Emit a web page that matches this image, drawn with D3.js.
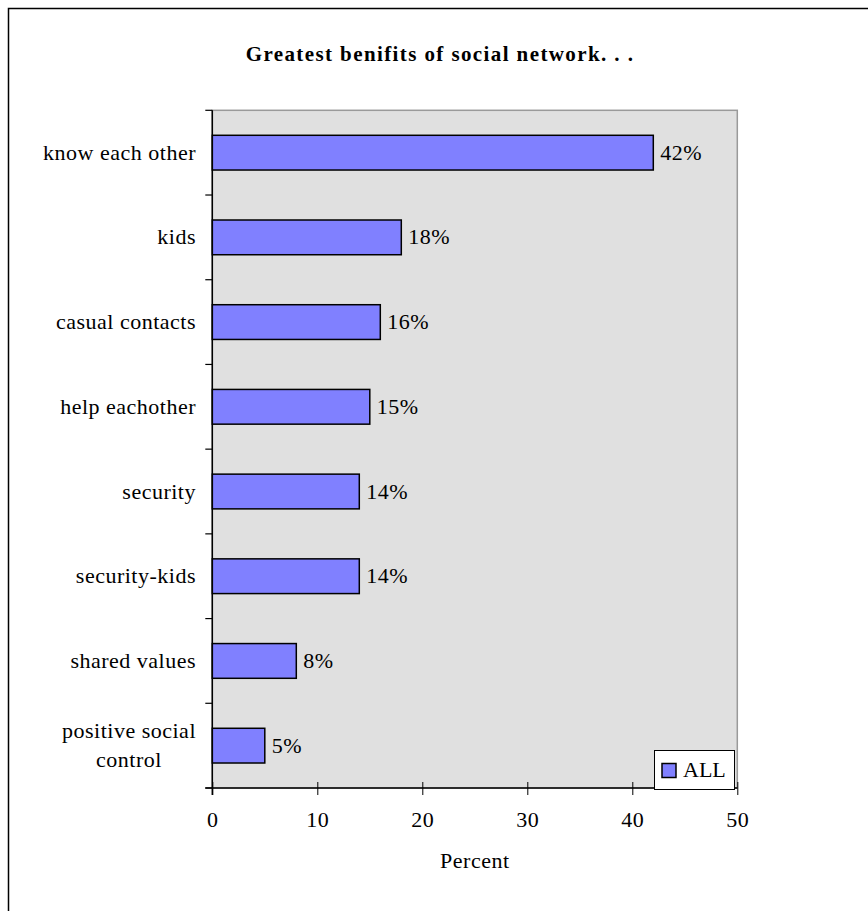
<!DOCTYPE html>
<html>
<head>
<meta charset="utf-8">
<script src="https://cdn.jsdelivr.net/npm/d3@7"></script>
<style>
  html, body { margin: 0; padding: 0; background: #fff; }
  svg { display: block; font-family: "Liberation Serif", "Times New Roman", serif; }
</style>
</head>
<body>
<svg id="chart" width="868" height="911"></svg>
<script>
// Survey answers: greatest benefits of the social network
const categories = [
  ["know each other"],
  ["kids"],
  ["casual contacts"],
  ["help eachother"],
  ["security"],
  ["security-kids"],
  ["shared values"],
  ["positive social", "control"]
];
const values = [42, 18, 16, 15, 14, 14, 8, 5];
const xTicks = [0, 10, 20, 30, 40, 50];
const seriesName = "ALL";
const titleText = "Greatest benifits of social network. . .";
const xAxisTitle = "Percent";

const FS = 22;       // body text size
const LS = 0.5;      // body letter spacing

const svg = d3.select("#chart");
const plot = { left: 212.3, right: 737.3, top: 110.3, bottom: 788 };

// outer chart frame (runs off the right and bottom of the page)
svg.append("rect")
  .attr("x", 8.5).attr("y", 8.5)
  .attr("width", 1000).attr("height", 1000)
  .attr("fill", "#fff").attr("stroke", "#000").attr("stroke-width", 1.5);

const x = d3.scaleLinear().domain([0, 50]).range([plot.left, plot.right]);
const keys = categories.map(c => c.join(" "));
const y = d3.scaleBand().domain(keys).range([plot.top, plot.bottom])
  .paddingInner(0.59).paddingOuter(0.295);

// plot background
svg.append("rect")
  .attr("x", plot.left).attr("y", plot.top)
  .attr("width", plot.right - plot.left).attr("height", plot.bottom - plot.top)
  .attr("fill", "#e0e0e0").attr("stroke", "#9a9a9a").attr("stroke-width", 1.5);

// title
svg.append("text")
  .attr("x", 440).attr("y", 61)
  .attr("text-anchor", "middle")
  .attr("font-size", 21).attr("font-weight", "bold")
  .attr("letter-spacing", 1.4)
  .text(titleText);

// bars
svg.append("g").selectAll("rect")
  .data(values)
  .join("rect")
  .attr("x", x(0))
  .attr("y", (d, i) => y(keys[i]))
  .attr("width", d => x(d) - x(0))
  .attr("height", y.bandwidth())
  .attr("fill", "#8080ff")
  .attr("stroke", "#000").attr("stroke-width", 1.5);

// value labels
svg.append("g").selectAll("text")
  .data(values)
  .join("text")
  .attr("x", d => x(d) + 7)
  .attr("y", (d, i) => y(keys[i]) + y.bandwidth() / 2 + 7)
  .attr("font-size", FS).attr("letter-spacing", LS)
  .text(d => d + "%");

// x axis
const xAxis = svg.append("g")
  .attr("transform", `translate(0,${plot.bottom})`)
  .call(d3.axisBottom(x).tickValues(xTicks).tickSize(7).tickPadding(16))
  .call(g => g.select(".domain").remove());
xAxis.selectAll(".tick line").attr("y1", -6).attr("y2", 7).attr("stroke", "#000");
xAxis.selectAll(".tick text")
  .attr("font-family", "Liberation Serif, serif").attr("font-size", FS)
  .attr("letter-spacing", LS).attr("fill", "#000");
svg.append("line")
  .attr("x1", plot.left - 7).attr("x2", plot.right)
  .attr("y1", plot.bottom).attr("y2", plot.bottom)
  .attr("stroke", "#000").attr("stroke-width", 1.5);

// y axis line and category separators
svg.append("line")
  .attr("x1", plot.left).attr("x2", plot.left)
  .attr("y1", plot.top).attr("y2", plot.bottom + 7)
  .attr("stroke", "#000").attr("stroke-width", 1.5);
svg.append("g").selectAll("line")
  .data(d3.range(keys.length + 1))
  .join("line")
  .attr("x1", plot.left - 7).attr("x2", plot.left)
  .attr("y1", i => plot.top + i * y.step())
  .attr("y2", i => plot.top + i * y.step())
  .attr("stroke", "#000").attr("stroke-width", 1.2);

// category labels (multi-line labels centred as a block)
const lineGap = 29;
const labelRight = 196;
categories.forEach((lines, i) => {
  const cy = y(keys[i]) + y.bandwidth() / 2;
  const t = svg.append("text").attr("font-size", FS).attr("letter-spacing", LS);
  if (lines.length === 1) {
    t.attr("x", labelRight).attr("y", cy + 7).attr("text-anchor", "end").text(lines[0]);
  } else {
    const startY = cy + 7 - (lines.length - 1) * lineGap / 2;
    t.attr("text-anchor", "middle");
    const tmp = svg.append("text").attr("font-size", FS).attr("letter-spacing", LS);
    const w = d3.max(lines, l => { tmp.text(l); return tmp.node().getComputedTextLength(); });
    tmp.remove();
    lines.forEach((l, k) => {
      t.append("tspan").attr("x", labelRight - w / 2).attr("y", startY + k * lineGap).text(l);
    });
  }
});

// x axis title
svg.append("text")
  .attr("x", (plot.left + plot.right) / 2).attr("y", 868)
  .attr("text-anchor", "middle").attr("font-size", FS).attr("letter-spacing", LS)
  .text(xAxisTitle);

// legend
const lg = svg.append("g");
lg.append("rect")
  .attr("x", 654.5).attr("y", 750.5).attr("width", 80).attr("height", 39)
  .attr("fill", "#fff").attr("stroke", "#000").attr("stroke-width", 1);
lg.append("rect")
  .attr("x", 662).attr("y", 763.5).attr("width", 14).attr("height", 14)
  .attr("fill", "#8080ff").attr("stroke", "#000").attr("stroke-width", 1.5);
lg.append("text")
  .attr("x", 683).attr("y", 777).attr("font-size", FS)
  .text(seriesName);
</script>
</body>
</html>
